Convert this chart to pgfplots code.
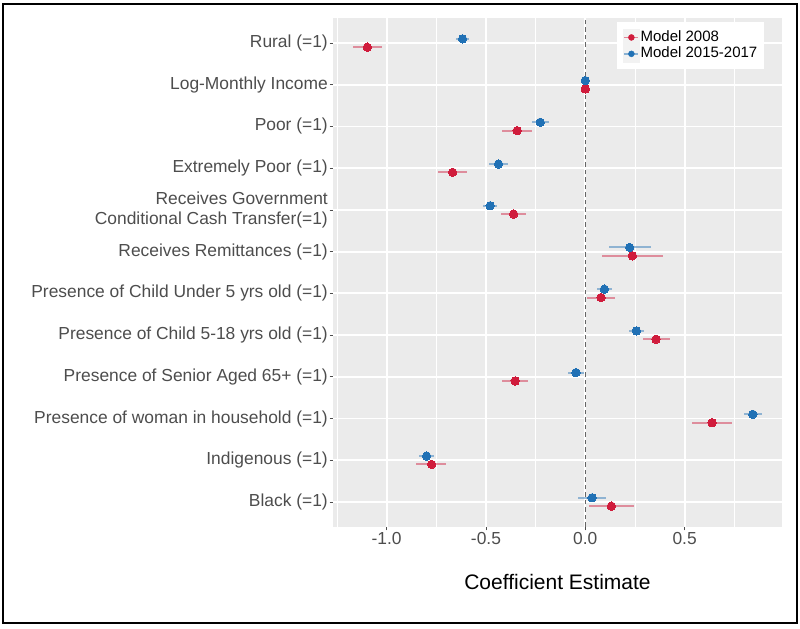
\documentclass[border=0pt]{standalone}
\usepackage{pgfplots}
\pgfplotsset{compat=1.18}
\usepackage{pgfplotstable}
\usepackage{fontspec}
\setmainfont{Liberation Sans}
\definecolor{ggbg}{HTML}{EBEBEB}
\definecolor{redm}{HTML}{D01C3C}
\definecolor{bluem}{HTML}{2171B5}
\definecolor{tickgrey}{HTML}{4D4D4D}
\definecolor{keybg}{HTML}{F2F2F2}

% pos: 12 = Rural (top) ... 1 = Black (bottom)
\pgfplotstableread{
pos est lo hi
12 -0.618 -0.651 -0.583
11 0.000 -0.005 0.005
10 -0.227 -0.269 -0.185
9 -0.437 -0.487 -0.388
8 -0.479 -0.515 -0.445
7 0.223 0.118 0.333
6 0.096 0.059 0.134
5 0.257 0.220 0.296
4 -0.047 -0.086 -0.008
3 0.843 0.798 0.888
2 -0.799 -0.835 -0.762
1 0.034 -0.035 0.102
}\bluedata

\pgfplotstableread{
pos est lo hi
12 -1.097 -1.170 -1.023
11 0.000 -0.005 0.005
10 -0.343 -0.417 -0.267
9 -0.668 -0.742 -0.596
8 -0.361 -0.423 -0.297
7 0.237 0.084 0.391
6 0.079 0.008 0.148
5 0.356 0.289 0.425
4 -0.353 -0.418 -0.287
3 0.638 0.537 0.739
2 -0.774 -0.851 -0.699
1 0.131 0.017 0.247
}\reddata

\begin{document}
\begin{tikzpicture}[x=1bp,y=1bp]
\useasboundingbox (0,0) rectangle (800,629);
\draw[line width=2bp] (3,5.5) rectangle (797,625);
\begin{axis}[
  at={(333bp,102bp)}, anchor=south west,
  scale only axis, width=449bp, height=509bp,
  xmin=-1.27, xmax=0.99, ymin=0.4, ymax=12.6,
  axis background/.style={fill=ggbg},
  axis line style={draw=none},
  xtick={-1,-0.5,0,0.5}, xticklabels={-1.0,-0.5,0.0,0.5},
  minor xtick={-1.25,-0.75,-0.25,0.25,0.75},
  ytick={1,2,3,4,5,6,7,8,9,10,11,12},
  yticklabels={Black (=1),Indigenous (=1),Presence of woman in household (=1),Presence of Senior Aged 65+ (=1),Presence of Child 5-18 yrs old (=1),Presence of Child Under 5 yrs old (=1),Receives Remittances (=1),{Receives Government\\Conditional Cash Transfer(=1)},Extremely Poor (=1),Poor (=1),Log-Monthly Income,Rural (=1)},
  grid=both,
  major grid style={white, line width=1.8bp},
  minor grid style={white, line width=0.9bp},
  tick align=outside, major tick length=3.5bp, minor tick length=0pt,
  tick style={color=tickgrey, line width=0.8bp},
  tick pos=left,
  ticklabel style={font=\fontsize{17.4bp}{19.5bp}\selectfont, text=tickgrey},
  yticklabel style={align=right, inner sep=1.5bp},
  xticklabel style={inner sep=2bp},
  xlabel={Coefficient Estimate},
  xlabel style={font=\fontsize{21bp}{24bp}\selectfont, at={(axis description cs:0.5,-0.1075)}, anchor=center, text=black},
  legend style={at={(axis description cs:0.6325,0.992)}, anchor=north west, draw=none, fill=white,
    font=\fontsize{15bp}{17bp}\selectfont, inner xsep=6bp, inner ysep=7bp, row sep=0pt,
    nodes={inner sep=1bp, text height=11bp, text depth=3bp, text=black}},
  legend cell align=left,
]
\addplot[forget plot, color=black!60, line width=1.2bp, dash pattern=on 4.5bp off 3bp] coordinates {(0,0.4) (0,12.6)};

\addplot[only marks, mark=*, mark size=4.2bp, color=redm, mark options={draw=redm, fill=redm, line width=0pt},
  legend image code/.code={\fill[keybg] (0bp,-8bp) rectangle (16bp,8bp);
    \draw[redm, opacity=0.5, line width=1.6bp] (1bp,0bp)--(15bp,0bp);
    \fill[redm] (8bp,0bp) circle (3bp);},
  error bars/.cd, x dir=both, x explicit, error mark=none,
  error bar style={line width=2bp, color=redm, opacity=0.45}]
  table[x=est, y expr=\thisrow{pos}-0.1, x error plus expr=\thisrow{hi}-\thisrow{est}, x error minus expr=\thisrow{est}-\thisrow{lo}] {\reddata};
\addlegendentry{Model 2008}

\addplot[only marks, mark=*, mark size=4.2bp, color=bluem, mark options={draw=bluem, fill=bluem, line width=0pt},
  legend image code/.code={\fill[keybg] (0bp,-8bp) rectangle (16bp,8bp);
    \draw[bluem, opacity=0.5, line width=1.6bp] (1bp,0bp)--(15bp,0bp);
    \fill[bluem] (8bp,0bp) circle (3bp);},
  error bars/.cd, x dir=both, x explicit, error mark=none,
  error bar style={line width=2bp, color=bluem, opacity=0.45}]
  table[x=est, y expr=\thisrow{pos}+0.1, x error plus expr=\thisrow{hi}-\thisrow{est}, x error minus expr=\thisrow{est}-\thisrow{lo}] {\bluedata};
\addlegendentry{Model 2015-2017}
\end{axis}
\end{tikzpicture}
\end{document}
